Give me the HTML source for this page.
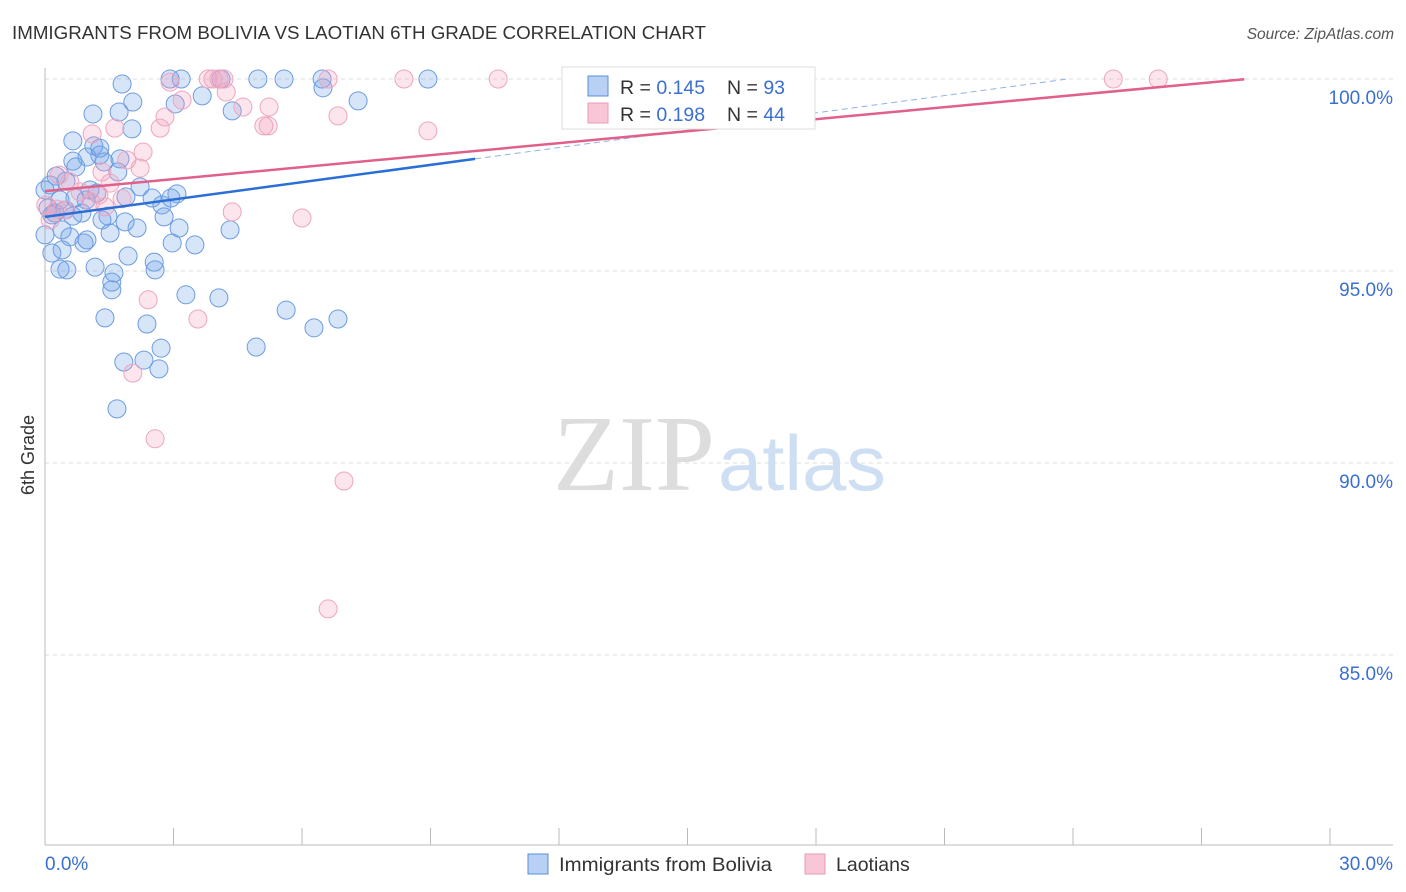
<!DOCTYPE html>
<html><head><meta charset="utf-8"><style>
body{margin:0;background:#fff;font-family:"Liberation Sans",sans-serif;}
svg{display:block}
</style></head><body>
<svg id="c" width="1406" height="892">
<text x="12" y="39" font-size="18" fill="#333" textLength="694" lengthAdjust="spacingAndGlyphs">IMMIGRANTS FROM BOLIVIA VS LAOTIAN 6TH GRADE CORRELATION CHART</text>
<text x="1394" y="39" font-size="15.5" fill="#555" font-style="italic" text-anchor="end">Source: ZipAtlas.com</text>
<g id="grid"></g>
<text x="553" y="490" font-size="108" font-family="Liberation Serif,serif" fill="#ddd" textLength="162" lengthAdjust="spacingAndGlyphs">ZIP</text>
<text x="718" y="490" font-size="78" fill="#cfdff3" textLength="168" lengthAdjust="spacingAndGlyphs">atlas</text>
<g id="marks"></g>
<text transform="translate(34,455) rotate(-90)" font-size="18" fill="#333" text-anchor="middle">6th Grade</text>
<g>
<rect x="562" y="67" width="253" height="62" fill="#fff" stroke="#ddd"/>
<rect x="588" y="76" width="20" height="20" fill="#b7d0f3" stroke="#5b8fd9"/>
<text x="620" y="94" font-size="19.5" fill="#333">R = <tspan fill="#3b6fd0">0.145</tspan></text>
<text x="727" y="94" font-size="19.5" fill="#333">N = <tspan fill="#3b6fd0">93</tspan></text>
<rect x="588" y="103" width="20" height="20" fill="#f8c6d6" stroke="#e89ab4"/>
<text x="620" y="121" font-size="19.5" fill="#333">R = <tspan fill="#3b6fd0">0.198</tspan></text>
<text x="727" y="121" font-size="19.5" fill="#333">N = <tspan fill="#3b6fd0">44</tspan></text>
</g>
<g>
<rect x="528" y="854" width="20" height="20" fill="#b7d0f3" stroke="#5b8fd9"/>
<text x="559" y="871" font-size="19.5" fill="#333" textLength="213" lengthAdjust="spacingAndGlyphs">Immigrants from Bolivia</text>
<rect x="805" y="854" width="20" height="20" fill="#f8c6d6" stroke="#e89ab4"/>
<text x="836" y="871" font-size="19.5" fill="#333">Laotians</text>
</g>
</svg>
<script>
const yTicks=[100,95,90,85];
const xTickLabels=["0.0%","30.0%"];
const blueX=[1.80,2.92,3.18,4.11,4.97,5.58,6.47,8.94,6.49,7.31,2.05,3.04,3.67,4.37,1.73,1.12,2.03,0.65,1.14,1.28,1.28,0.98,0.65,1.75,0.72,1.38,1.70,0.26,0.49,2.22,1.05,1.21,3.08,2.94,2.50,1.89,0.70,0.96,2.73,0.07,0.23,0.86,1.47,2.78,1.33,1.87,3.13,2.15,4.32,1.52,0.40,0,0.58,0.98,0.91,2.97,3.50,0.40,0.16,1.94,2.55,1.17,2.57,0.35,0.51,1.61,1.56,1.56,3.29,4.06,5.63,1.40,2.38,6.84,6.28,2.71,4.93,1.84,2.31,2.66,1.68,0.12,0.35,0.16,0,0.47,0.65];
const blueY=[99.87,100,100,100,100,100,100,100,99.77,99.43,99.40,99.35,99.56,99.17,99.14,99.09,98.70,98.39,98.26,98.20,98.02,97.97,97.86,97.92,97.71,97.84,97.58,97.47,97.34,97.19,97.11,97.03,97.01,96.90,96.90,96.93,96.90,96.85,96.72,96.64,96.51,96.51,96.43,96.41,96.33,96.28,96.12,96.12,96.07,95.99,96.07,95.94,95.89,95.81,95.73,95.73,95.68,95.55,95.47,95.39,95.23,95.10,95.03,95.05,95.03,94.95,94.71,94.51,94.38,94.30,93.98,93.78,93.62,93.75,93.52,92.99,93.02,92.63,92.68,92.45,91.41,97.24,96.85,96.46,97.11,96.59,96.43];
const pinkX=[2.92,3.81,3.92,4.06,4.18,6.61,8.38,10.58,24.94,25.99,4.23,3.20,4.62,5.23,6.84,2.80,5.11,5.21,8.94,2.69,1.63,1.10,2.29,1.91,2.22,1.33,1.52,0.58,0.33,0.82,1.26,1.07,1.80,4.37,6.00,0.02,0.28,0.49,0.12,2.41,3.57,2.05,2.57,6.98,6.61,1.40];
const pinkY=[99.92,100,100,100,100,100,100,100,100,100,99.66,99.45,99.27,99.27,99.04,99.01,98.78,98.78,98.65,98.72,98.72,98.57,98.10,97.89,97.68,97.58,97.29,97.32,97.50,97.06,96.98,96.80,96.88,96.54,96.38,96.72,96.61,96.59,96.33,94.25,93.75,92.34,90.63,89.53,86.20,96.67];
const blueTrend=[96.41,0.1504,10.04,100];
const pinkTrend=[97.08,0.1041,28.0];
const NS="http://www.w3.org/2000/svg";
const X0=45,X1=1330,Y100=79,PXPER=38.4;
const sx=v=>X0+(v/30)*(X1-X0);
const sy=v=>Y100+(100-v)*PXPER;
function mk(t,a,p){const e=document.createElementNS(NS,t);for(const k in a)e.setAttribute(k,a[k]);p.appendChild(e);return e;}
const grid=document.getElementById('grid');
yTicks.forEach(t=>{
  const l=mk('line',{x1:X0,x2:1393,y1:sy(t),y2:sy(t),stroke:'#ddd','stroke-dasharray':'4,4'},grid);
  
  
  const tx=mk('text',{x:1393,y:sy(t)+25,'font-size':19,fill:'#3b6fd0','text-anchor':'end'},grid);
  tx.textContent=t.toFixed(1)+'%';
  
  
});
const ax=mk('line',{x1:X0,x2:X0,y1:68,y2:845,stroke:'#bbb'},grid);


const bx=mk('line',{x1:X0,x2:1393,y1:845,y2:845,stroke:'#bbb'},grid);


for(let i=0;i<=10;i++){
  const tk=mk('line',{x1:sx(i*3),x2:sx(i*3),y1:828,y2:845,stroke:'#bbb'},grid);
  
  
}
const xl0=mk('text',{x:45,y:870,'font-size':19,fill:'#3b6fd0'},grid);xl0.textContent=xTickLabels[0];


const xl1=mk('text',{x:1393,y:870,'font-size':19,fill:'#3b6fd0','text-anchor':'end'},grid);xl1.textContent=xTickLabels[1];


const marks=document.getElementById('marks');
blueX.forEach((x,i)=>{
  const c=mk('circle',{cx:sx(x),cy:sy(blueY[i]),r:9,fill:'rgba(110,160,235,0.28)',stroke:'#6d9ce0','stroke-width':1},marks);
  
  
});
pinkX.forEach((x,i)=>{
  const c=mk('circle',{cx:sx(x),cy:sy(pinkY[i]),r:9,fill:'rgba(245,160,190,0.28)',stroke:'#eca6bf','stroke-width':1},marks);
  
  
});
const bt=v=>blueTrend[0]+blueTrend[1]*v;
const pt=v=>pinkTrend[0]+pinkTrend[1]*v;
const bd=mk('line',{x1:sx(blueTrend[2]),y1:sy(bt(blueTrend[2])),x2:sx((100-blueTrend[0])/blueTrend[1]),y2:sy(100),stroke:'#8fb2e6','stroke-width':1,'stroke-dasharray':'6,4'},marks);


const pl=mk('line',{x1:sx(0),y1:sy(pt(0)),x2:sx(pinkTrend[2]),y2:sy(pt(pinkTrend[2])),stroke:'#e0608a','stroke-width':2.5},marks);


const bl=mk('line',{x1:sx(0),y1:sy(bt(0)),x2:sx(blueTrend[2]),y2:sy(bt(blueTrend[2])),stroke:'#2a6fd6','stroke-width':2.5},marks);


</script>
</body></html>
